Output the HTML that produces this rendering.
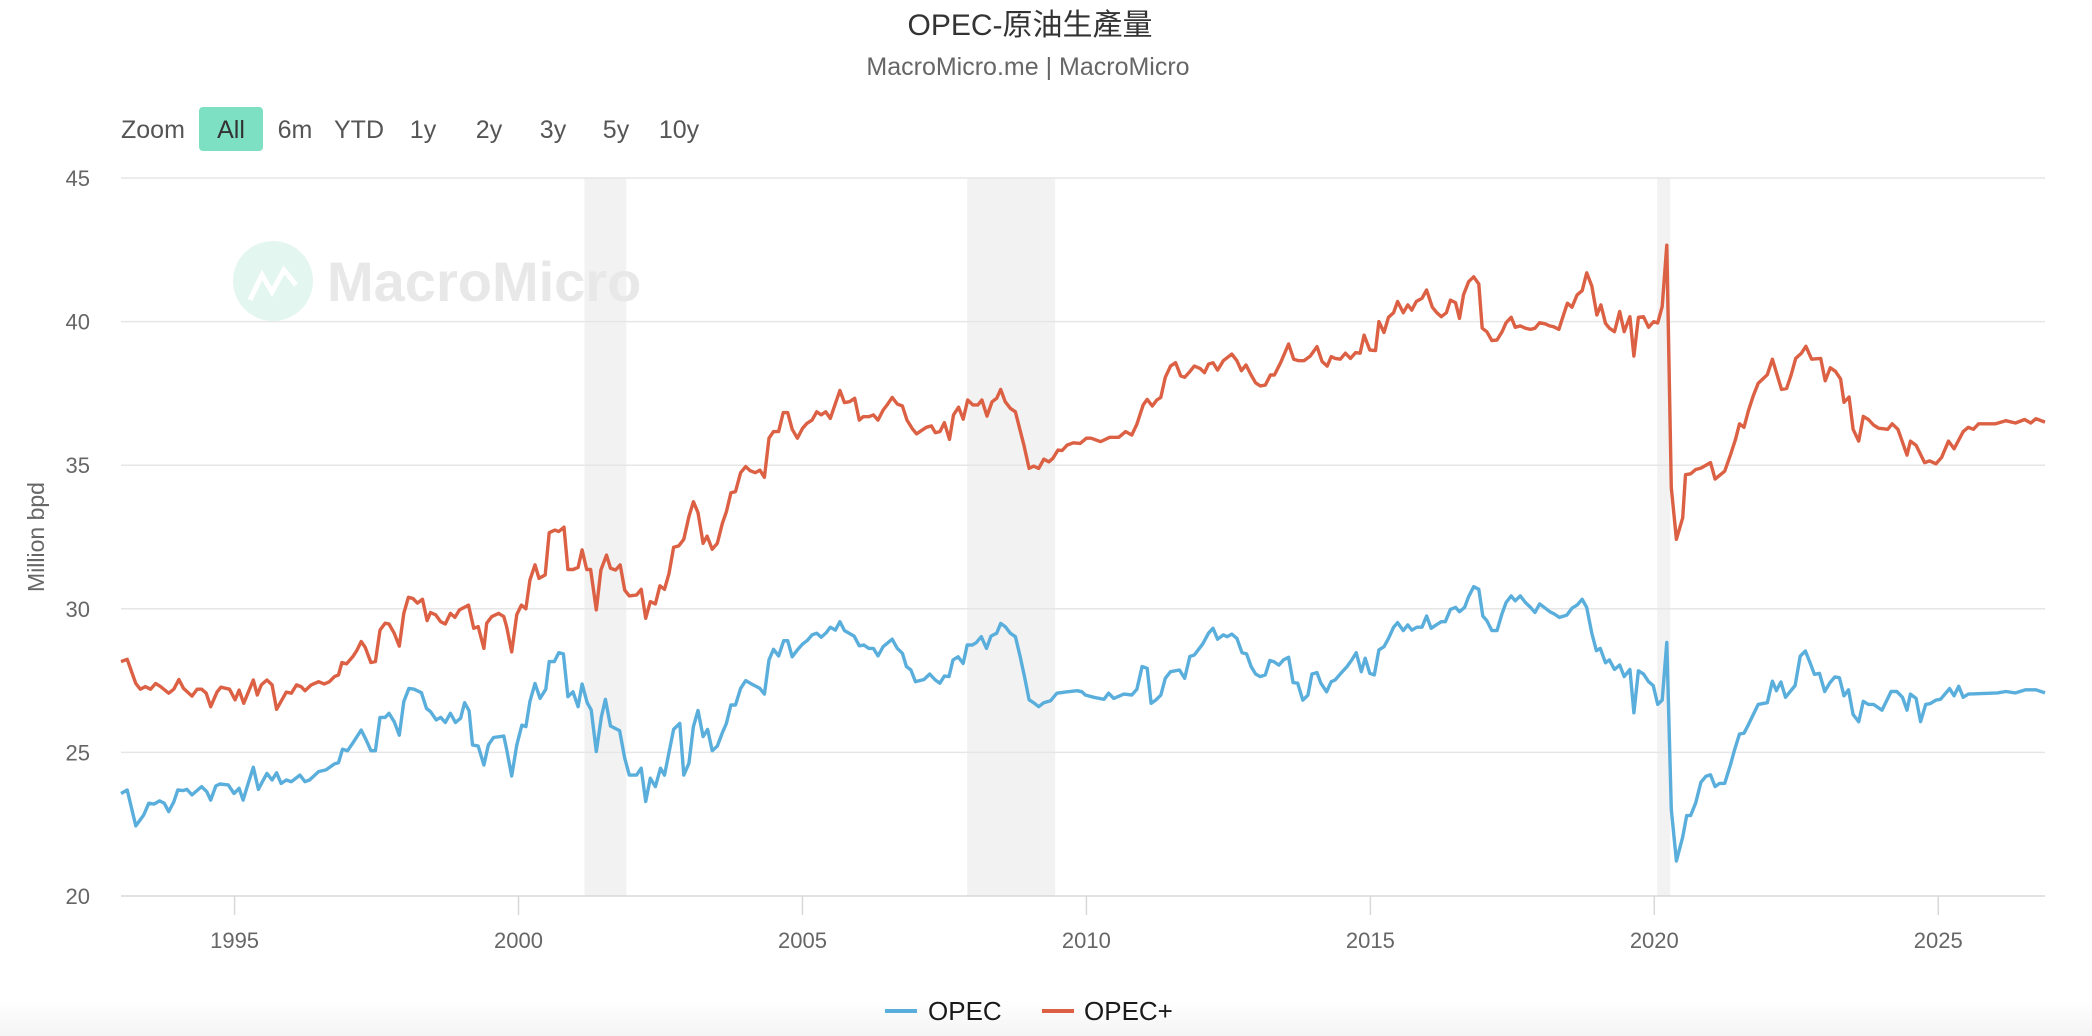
<!DOCTYPE html>
<html><head><meta charset="utf-8"><style>
html,body{margin:0;padding:0;background:#fff;}
svg{display:block;font-family:"Liberation Sans","Noto Sans CJK TC",sans-serif;}
</style></head><body>
<svg id="chart" width="2092" height="1036" viewBox="0 0 2092 1036">
<defs><linearGradient id="bot" x1="0" y1="0" x2="0" y2="1"><stop offset="0" stop-color="#fff"/><stop offset="1" stop-color="#f4f4f4"/></linearGradient></defs>
<rect x="0" y="1000" width="2092" height="36" fill="url(#bot)"/>
<text x="1030" y="35" text-anchor="middle" font-size="30" fill="#333">OPEC-原油生產量</text>
<text x="1028" y="75" text-anchor="middle" font-size="25" fill="#666">MacroMicro.me | MacroMicro</text>
<g font-size="25" fill="#555">
<text x="121" y="138">Zoom</text>
<rect x="199" y="107" width="64" height="44" rx="4" fill="#7ee0c3"/>
<text x="231" y="138" text-anchor="middle" fill="#333">All</text>
<text x="295" y="138" text-anchor="middle">6m</text>
<text x="359" y="138" text-anchor="middle">YTD</text>
<text x="423" y="138" text-anchor="middle">1y</text>
<text x="489" y="138" text-anchor="middle">2y</text>
<text x="553" y="138" text-anchor="middle">3y</text>
<text x="616" y="138" text-anchor="middle">5y</text>
<text x="679" y="138" text-anchor="middle">10y</text>
</g>
<g id="bands"></g>
<g id="grid"></g>
<g>
<circle cx="273" cy="281" r="40" fill="#e3f6ef"/>
<path d="M250 300 L262 275 L272 292 L284 270 L296 285" stroke="#fff" stroke-width="5" fill="none"/>
<text x="327" y="301" font-size="56" font-weight="bold" fill="#e8e8e8">MacroMicro</text>
</g>
<g id="axes"></g>
<g id="series"></g>
<text transform="translate(44,537) rotate(-90)" text-anchor="middle" font-size="23" fill="#666">Million bpd</text>
<g font-size="26" fill="#1a1a1a">
<g><line x1="885" y1="1011" x2="917" y2="1011" stroke="#5aaedc" stroke-width="4"/><text x="928" y="1020">OPEC</text></g>
<g><line x1="1042" y1="1011" x2="1074" y2="1011" stroke="#dc6043" stroke-width="4"/><text x="1084" y="1020">OPEC+</text></g>
</g>
</svg>
<script>
const yTicks = [20,25,30,35,40,45];
const xTicks = [1995,2000,2005,2010,2015,2020,2025];
const recessions = [[2001.16,2001.9],[2007.9,2009.45],[2020.05,2020.28]];
const opecPlus = [[1993.0,28.16],[1993.11,28.24],[1993.26,27.4],[1993.34,27.2],[1993.43,27.29],[1993.52,27.2],[1993.61,27.4],[1993.69,27.3],[1993.84,27.06],[1993.93,27.2],[1994.02,27.54],[1994.1,27.23],[1994.25,26.96],[1994.34,27.2],[1994.42,27.2],[1994.5,27.06],[1994.58,26.59],[1994.69,27.1],[1994.76,27.27],[1994.91,27.2],[1995.01,26.83],[1995.08,27.17],[1995.16,26.71],[1995.33,27.52],[1995.4,27.0],[1995.47,27.35],[1995.57,27.52],[1995.66,27.35],[1995.74,26.5],[1995.91,27.1],[1996.0,27.06],[1996.09,27.35],[1996.17,27.29],[1996.24,27.15],[1996.35,27.35],[1996.48,27.46],[1996.58,27.38],[1996.67,27.46],[1996.76,27.64],[1996.83,27.7],[1996.89,28.13],[1996.97,28.08],[1997.08,28.33],[1997.15,28.54],[1997.23,28.86],[1997.3,28.66],[1997.4,28.13],[1997.48,28.16],[1997.56,29.26],[1997.65,29.5],[1997.72,29.47],[1997.81,29.15],[1997.9,28.7],[1997.98,29.84],[1998.06,30.4],[1998.14,30.36],[1998.22,30.2],[1998.31,30.33],[1998.39,29.59],[1998.45,29.87],[1998.54,29.79],[1998.63,29.55],[1998.71,29.47],[1998.8,29.84],[1998.88,29.7],[1998.96,29.96],[1999.12,30.13],[1999.21,29.32],[1999.29,29.38],[1999.39,28.62],[1999.44,29.5],[1999.53,29.73],[1999.65,29.84],[1999.74,29.73],[1999.79,29.38],[1999.88,28.5],[1999.97,29.8],[2000.05,30.13],[2000.13,30.0],[2000.2,31.0],[2000.29,31.53],[2000.36,31.06],[2000.47,31.18],[2000.54,32.65],[2000.64,32.74],[2000.71,32.69],[2000.8,32.84],[2000.87,31.37],[2000.96,31.37],[2001.05,31.44],[2001.12,32.05],[2001.2,31.37],[2001.27,31.37],[2001.37,29.96],[2001.45,31.35],[2001.55,31.87],[2001.62,31.41],[2001.71,31.35],[2001.79,31.53],[2001.87,30.65],[2001.95,30.45],[2002.08,30.48],[2002.16,30.68],[2002.24,29.67],[2002.32,30.25],[2002.41,30.17],[2002.49,30.8],[2002.57,30.68],[2002.65,31.23],[2002.73,32.14],[2002.82,32.19],[2002.91,32.42],[2003.0,33.21],[2003.08,33.73],[2003.16,33.35],[2003.25,32.28],[2003.32,32.53],[2003.41,32.07],[2003.5,32.28],[2003.59,32.98],[2003.66,33.38],[2003.74,34.04],[2003.82,34.08],[2003.91,34.74],[2004.0,34.95],[2004.08,34.81],[2004.17,34.74],[2004.25,34.83],[2004.33,34.58],[2004.41,35.94],[2004.49,36.17],[2004.58,36.17],[2004.66,36.83],[2004.74,36.83],[2004.82,36.25],[2004.91,35.94],[2005.0,36.28],[2005.08,36.46],[2005.17,36.57],[2005.25,36.86],[2005.33,36.75],[2005.41,36.86],[2005.49,36.63],[2005.58,37.15],[2005.66,37.6],[2005.74,37.18],[2005.83,37.21],[2005.92,37.33],[2006.0,36.57],[2006.07,36.69],[2006.17,36.69],[2006.25,36.75],[2006.33,36.57],[2006.42,36.92],[2006.49,37.1],[2006.58,37.36],[2006.67,37.13],[2006.76,37.06],[2006.84,36.57],[2006.93,36.28],[2007.01,36.09],[2007.09,36.2],[2007.18,36.32],[2007.27,36.37],[2007.34,36.13],[2007.42,36.17],[2007.5,36.48],[2007.59,35.9],[2007.66,36.75],[2007.75,37.02],[2007.83,36.6],[2007.91,37.27],[2008.0,37.1],[2008.09,37.1],[2008.16,37.27],[2008.25,36.71],[2008.34,37.21],[2008.42,37.33],[2008.49,37.64],[2008.57,37.21],[2008.66,36.98],[2008.75,36.86],[2008.83,36.23],[2008.9,35.7],[2008.99,34.89],[2009.07,34.97],[2009.16,34.89],[2009.25,35.21],[2009.34,35.12],[2009.41,35.24],[2009.5,35.53],[2009.57,35.51],[2009.66,35.7],[2009.77,35.78],[2009.89,35.76],[2010.0,35.94],[2010.08,35.94],[2010.25,35.82],[2010.41,35.97],[2010.57,35.97],[2010.69,36.17],[2010.8,36.05],[2010.89,36.43],[2011.0,37.1],[2011.07,37.29],[2011.16,37.06],[2011.24,37.27],[2011.31,37.36],[2011.39,38.06],[2011.48,38.45],[2011.57,38.57],[2011.66,38.11],[2011.73,38.06],[2011.82,38.26],[2011.9,38.45],[2012.0,38.37],[2012.08,38.22],[2012.15,38.52],[2012.23,38.57],[2012.31,38.31],[2012.41,38.64],[2012.56,38.87],[2012.65,38.64],[2012.73,38.29],[2012.81,38.49],[2012.9,38.14],[2012.98,37.87],[2013.06,37.76],[2013.15,37.79],[2013.24,38.14],[2013.31,38.14],[2013.42,38.57],[2013.56,39.22],[2013.65,38.69],[2013.74,38.64],[2013.83,38.64],[2013.94,38.8],[2014.06,39.13],[2014.15,38.61],[2014.24,38.45],[2014.31,38.78],[2014.38,38.72],[2014.47,38.69],[2014.56,38.9],[2014.65,38.72],[2014.74,38.92],[2014.82,38.9],[2014.89,39.53],[2014.99,39.01],[2015.09,38.99],[2015.15,40.0],[2015.24,39.62],[2015.32,40.15],[2015.41,40.31],[2015.48,40.7],[2015.58,40.31],[2015.66,40.58],[2015.73,40.4],[2015.81,40.7],[2015.91,40.81],[2015.99,41.1],[2016.09,40.5],[2016.17,40.31],[2016.25,40.17],[2016.34,40.31],[2016.41,40.75],[2016.5,40.66],[2016.57,40.11],[2016.64,40.93],[2016.73,41.39],[2016.82,41.56],[2016.91,41.31],[2016.97,39.77],[2017.05,39.65],[2017.14,39.34],[2017.23,39.36],[2017.32,39.65],[2017.39,39.96],[2017.48,40.15],[2017.55,39.8],[2017.64,39.85],[2017.73,39.77],[2017.82,39.73],[2017.9,39.77],[2017.98,39.96],[2018.08,39.92],[2018.16,39.85],[2018.23,39.82],[2018.32,39.73],[2018.39,40.17],[2018.47,40.64],[2018.55,40.5],[2018.64,40.93],[2018.73,41.08],[2018.81,41.7],[2018.9,41.24],[2018.99,40.23],[2019.06,40.58],[2019.14,39.94],[2019.21,39.77],[2019.3,39.65],[2019.39,40.35],[2019.47,39.65],[2019.57,40.17],[2019.64,38.8],[2019.72,40.15],[2019.81,40.17],[2019.9,39.8],[2019.99,40.0],[2020.06,39.95],[2020.14,40.53],[2020.22,42.66],[2020.3,34.22],[2020.39,32.42],[2020.5,33.17],[2020.55,34.67],[2020.64,34.7],[2020.73,34.85],[2020.82,34.9],[2020.99,35.09],[2021.07,34.52],[2021.24,34.79],[2021.34,35.35],[2021.43,35.9],[2021.5,36.44],[2021.58,36.32],[2021.66,36.92],[2021.74,37.4],[2021.83,37.85],[2021.99,38.15],[2022.08,38.69],[2022.24,37.64],[2022.33,37.67],[2022.41,38.15],[2022.49,38.72],[2022.59,38.9],[2022.67,39.14],[2022.77,38.69],[2022.93,38.72],[2023.01,37.94],[2023.1,38.39],[2023.19,38.27],[2023.28,38.0],[2023.34,37.19],[2023.43,37.37],[2023.5,36.25],[2023.6,35.84],[2023.68,36.7],[2023.77,36.59],[2023.86,36.4],[2023.95,36.29],[2024.11,36.25],[2024.19,36.44],[2024.29,36.25],[2024.37,35.8],[2024.45,35.35],[2024.51,35.84],[2024.61,35.69],[2024.76,35.09],[2024.85,35.15],[2024.96,35.05],[2025.06,35.27],[2025.18,35.84],[2025.28,35.57],[2025.44,36.17],[2025.53,36.32],[2025.62,36.25],[2025.71,36.44],[2026.01,36.44],[2026.19,36.55],[2026.36,36.47],[2026.52,36.59],[2026.63,36.47],[2026.72,36.62],[2026.9,36.5]];
const opec = [[1993.0,23.57],[1993.11,23.69],[1993.26,22.44],[1993.4,22.82],[1993.49,23.23],[1993.58,23.2],[1993.68,23.31],[1993.76,23.23],[1993.84,22.94],[1993.93,23.28],[1994.0,23.69],[1994.09,23.67],[1994.16,23.71],[1994.25,23.52],[1994.42,23.81],[1994.51,23.63],[1994.58,23.34],[1994.67,23.83],[1994.74,23.9],[1994.89,23.87],[1994.99,23.57],[1995.08,23.75],[1995.15,23.34],[1995.24,23.92],[1995.33,24.48],[1995.42,23.71],[1995.49,23.98],[1995.57,24.27],[1995.66,24.04],[1995.74,24.29],[1995.82,23.92],[1995.91,24.04],[1996.0,23.98],[1996.15,24.21],[1996.24,23.98],[1996.32,24.04],[1996.48,24.33],[1996.61,24.39],[1996.76,24.6],[1996.83,24.64],[1996.9,25.11],[1996.99,25.06],[1997.08,25.32],[1997.23,25.78],[1997.31,25.46],[1997.4,25.06],[1997.48,25.06],[1997.56,26.22],[1997.65,26.22],[1997.72,26.36],[1997.81,26.07],[1997.9,25.6],[1997.98,26.77],[1998.07,27.23],[1998.16,27.2],[1998.29,27.08],[1998.38,26.53],[1998.45,26.42],[1998.55,26.13],[1998.63,26.22],[1998.71,26.04],[1998.8,26.36],[1998.89,26.04],[1998.98,26.19],[1999.05,26.73],[1999.13,26.45],[1999.19,25.26],[1999.29,25.22],[1999.39,24.56],[1999.47,25.26],[1999.56,25.52],[1999.68,25.55],[1999.74,25.57],[1999.79,25.11],[1999.88,24.18],[1999.97,25.26],[2000.06,25.95],[2000.13,25.9],[2000.2,26.77],[2000.29,27.4],[2000.38,26.88],[2000.48,27.2],[2000.54,28.16],[2000.63,28.16],[2000.71,28.47],[2000.79,28.43],[2000.87,26.94],[2000.96,27.11],[2001.05,26.59],[2001.12,27.38],[2001.21,26.73],[2001.28,26.48],[2001.37,25.03],[2001.46,26.24],[2001.53,26.85],[2001.62,25.92],[2001.78,25.76],[2001.87,24.8],[2001.95,24.21],[2002.08,24.21],[2002.16,24.45],[2002.24,23.29],[2002.32,24.1],[2002.41,23.81],[2002.5,24.45],[2002.57,24.21],[2002.73,25.8],[2002.84,26.01],[2002.91,24.21],[2003.0,24.62],[2003.08,25.9],[2003.16,26.46],[2003.25,25.55],[2003.33,25.8],[2003.41,25.06],[2003.5,25.22],[2003.59,25.69],[2003.66,26.01],[2003.74,26.65],[2003.82,26.65],[2003.91,27.23],[2004.0,27.5],[2004.08,27.41],[2004.25,27.23],[2004.33,27.03],[2004.41,28.22],[2004.49,28.59],[2004.58,28.36],[2004.67,28.89],[2004.74,28.89],[2004.82,28.33],[2004.91,28.57],[2005.0,28.77],[2005.08,28.89],[2005.17,29.09],[2005.25,29.15],[2005.33,29.01],[2005.42,29.17],[2005.49,29.36],[2005.58,29.26],[2005.66,29.55],[2005.74,29.24],[2005.91,29.05],[2006.0,28.71],[2006.08,28.74],[2006.17,28.62],[2006.25,28.62],[2006.33,28.36],[2006.42,28.68],[2006.58,28.94],[2006.67,28.62],[2006.76,28.45],[2006.83,27.99],[2006.91,27.87],[2006.99,27.46],[2007.14,27.54],[2007.24,27.73],[2007.34,27.52],[2007.42,27.41],[2007.5,27.66],[2007.58,27.64],[2007.65,28.22],[2007.74,28.33],[2007.83,28.1],[2007.9,28.74],[2007.99,28.74],[2008.06,28.82],[2008.15,29.03],[2008.24,28.62],[2008.32,29.05],[2008.42,29.15],[2008.49,29.49],[2008.57,29.38],[2008.66,29.15],[2008.75,29.03],[2008.83,28.36],[2008.91,27.64],[2008.99,26.83],[2009.07,26.73],[2009.16,26.59],[2009.25,26.73],[2009.37,26.8],[2009.48,27.06],[2009.66,27.11],[2009.84,27.15],[2009.92,27.11],[2009.98,27.0],[2010.13,26.92],[2010.31,26.85],[2010.39,27.06],[2010.48,26.88],[2010.66,27.03],[2010.8,27.0],[2010.89,27.2],[2010.98,27.99],[2011.07,27.93],[2011.14,26.71],[2011.22,26.82],[2011.31,26.99],[2011.39,27.58],[2011.48,27.81],[2011.64,27.87],[2011.73,27.58],[2011.82,28.34],[2011.9,28.39],[2012.05,28.78],[2012.15,29.15],[2012.23,29.32],[2012.31,28.94],[2012.41,29.09],[2012.48,29.03],[2012.56,29.12],[2012.65,28.97],[2012.74,28.47],[2012.82,28.43],[2012.9,27.99],[2012.98,27.73],[2013.06,27.64],[2013.15,27.7],[2013.23,28.2],[2013.3,28.16],[2013.39,28.04],[2013.47,28.22],[2013.56,28.31],[2013.64,27.43],[2013.72,27.41],[2013.81,26.82],[2013.9,26.99],[2013.97,27.73],[2014.06,27.78],[2014.13,27.41],[2014.23,27.11],[2014.31,27.46],[2014.38,27.52],[2014.48,27.75],[2014.59,27.99],[2014.68,28.24],[2014.75,28.47],[2014.84,27.81],[2014.91,28.28],[2014.99,27.75],[2015.07,27.7],[2015.15,28.57],[2015.24,28.68],[2015.32,28.97],[2015.41,29.36],[2015.48,29.52],[2015.58,29.24],[2015.66,29.44],[2015.73,29.26],[2015.82,29.36],[2015.91,29.36],[2015.99,29.75],[2016.07,29.32],[2016.16,29.44],[2016.25,29.55],[2016.32,29.55],[2016.41,29.98],[2016.5,30.05],[2016.57,29.9],[2016.66,30.05],[2016.73,30.42],[2016.82,30.77],[2016.91,30.68],[2016.98,29.75],[2017.05,29.59],[2017.14,29.24],[2017.23,29.24],[2017.32,29.84],[2017.39,30.22],[2017.48,30.45],[2017.55,30.28],[2017.64,30.45],[2017.73,30.22],[2017.82,30.05],[2017.9,29.87],[2017.98,30.17],[2018.08,30.02],[2018.16,29.9],[2018.24,29.82],[2018.33,29.7],[2018.46,29.78],[2018.55,30.02],[2018.64,30.13],[2018.73,30.33],[2018.81,30.05],[2018.9,29.15],[2018.98,28.54],[2019.05,28.62],[2019.14,28.12],[2019.21,28.22],[2019.3,27.89],[2019.39,28.04],[2019.47,27.64],[2019.57,27.89],[2019.64,26.38],[2019.72,27.84],[2019.81,27.73],[2019.9,27.46],[2019.98,27.33],[2020.06,26.67],[2020.14,26.82],[2020.22,28.83],[2020.3,23.02],[2020.39,21.22],[2020.5,22.05],[2020.57,22.8],[2020.64,22.8],[2020.73,23.24],[2020.82,23.96],[2020.91,24.17],[2020.99,24.22],[2021.07,23.81],[2021.15,23.92],[2021.24,23.92],[2021.34,24.56],[2021.41,25.07],[2021.5,25.64],[2021.58,25.67],[2021.66,25.98],[2021.83,26.67],[2021.99,26.73],[2022.08,27.48],[2022.15,27.15],[2022.23,27.45],[2022.31,26.92],[2022.48,27.33],[2022.57,28.35],[2022.66,28.53],[2022.75,28.08],[2022.82,27.72],[2022.91,27.75],[2023.0,27.12],[2023.09,27.42],[2023.18,27.63],[2023.26,27.6],[2023.34,26.97],[2023.42,27.18],[2023.5,26.32],[2023.6,26.07],[2023.68,26.78],[2023.77,26.67],[2023.86,26.67],[2024.01,26.47],[2024.17,27.12],[2024.27,27.12],[2024.37,26.92],[2024.45,26.47],[2024.51,27.03],[2024.61,26.88],[2024.69,26.07],[2024.78,26.67],[2024.86,26.7],[2024.96,26.82],[2025.04,26.85],[2025.2,27.22],[2025.28,26.97],[2025.36,27.3],[2025.44,26.92],[2025.53,27.03],[2026.04,27.07],[2026.19,27.12],[2026.36,27.07],[2026.54,27.18],[2026.72,27.18],[2026.9,27.07]];

const NS = 'http://www.w3.org/2000/svg';
const X0 = 121, X1 = 2045, Y0 = 896, Y1 = 178;
const T0 = 1993.0, T1 = 2026.88, V0 = 20, V1 = 45;
function xs(t){ return X0 + (t - T0) / (T1 - T0) * (X1 - X0); }
function ys(v){ return Y0 - (v - V0) / (V1 - V0) * (Y0 - Y1); }
function mk(tag, attrs, parent){ const e = document.createElementNS(NS, tag); for (const k in attrs) e.setAttribute(k, attrs[k]); parent.appendChild(e); return e; }

const bands = document.getElementById('bands');
recessions.forEach(r => {
  const el = mk('rect', {x: xs(r[0]), y: Y1, width: xs(r[1]) - xs(r[0]), height: Y0 - Y1, fill: '#f2f2f2'}, bands);
  
  
});
const grid = document.getElementById('grid');
yTicks.forEach(v => {
  const l = mk('line', {x1: X0, x2: X1, y1: ys(v), y2: ys(v), stroke: v === 20 ? '#d8d8d8' : '#e6e6e6', 'stroke-width': 1.5}, grid);
  
  
  const t = mk('text', {x: 90, y: ys(v) + 8, 'text-anchor': 'end', 'font-size': 22, fill: '#666'}, grid);
  t.textContent = v;
  
  
});
const axes = document.getElementById('axes');
xTicks.forEach(yr => {
  const l = mk('line', {x1: xs(yr), x2: xs(yr), y1: Y0, y2: Y0 + 19, stroke: '#d8d8d8', 'stroke-width': 1.5}, axes);
  
  
  const t = mk('text', {x: xs(yr), y: 948, 'text-anchor': 'middle', 'font-size': 22, fill: '#666'}, axes);
  t.textContent = yr;
  
  
});
const series = document.getElementById('series');
function drawLine(data, color, name){
  const d = data.map((p, i) => (i ? 'L' : 'M') + xs(Math.min(p[0], T1)).toFixed(1) + ' ' + ys(p[1]).toFixed(1)).join(' ');
  const el = mk('path', {d: d, stroke: color, 'stroke-width': 3.4, fill: 'none', 'stroke-linejoin': 'round'}, series);
  
  
}
drawLine(opec, '#5aaedc', 'opec-line');
drawLine(opecPlus, '#dc6043', 'opec-plus-line');
</script>
</body></html>
